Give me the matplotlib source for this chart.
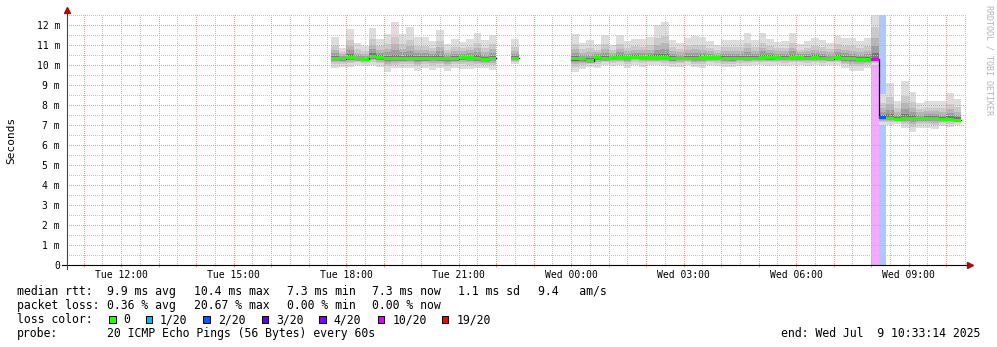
import numpy as np
import pandas as pd
import matplotlib
matplotlib.use("Agg")
import matplotlib.pyplot as plt
import matplotlib.dates as mdates
from matplotlib.patches import Rectangle
from matplotlib.ticker import MultipleLocator, FuncFormatter

plt.rcParams["font.family"] = ["DejaVu Sans Mono"]

nan = np.nan

# 12 minute bins from Tue 17:36 to Wed 10:24 (NaN = no data)
bin_start = pd.date_range("2025-07-08 17:36", periods=84, freq="12min")
t_start = pd.Timestamp("2025-07-08 10:33:14")
t_end = pd.Timestamp("2025-07-09 10:33:14")

# rtt in milliseconds: max ping, min ping, median ping per bin
rtt_max = [11.4, 10.87, 11.8, 11.08, 10.97, 11.85, 11.3, 11.55, 12.15, 11.57, 11.9,
           11.4, 11.4, 11.2, 11.77, 11.07, 11.3, 11.17, 11.3, 11.62, 11.25, 11.5,
           nan, nan, 11.3, nan, nan, nan, nan, nan, nan, nan,
           11.55, 11.1, 11.27, 11.03, 11.5, 11.0, 11.5, 11.2, 11.3, 11.3,
           11.4, 12.0, 12.17, 11.25, 11.1, 11.37, 11.45, 11.4, 11.2, 11.0,
           11.25, 11.25, 11.25, 11.6, 11.25, 11.6, 11.3, 11.17, 11.2, 11.6,
           11.03, 11.2, 11.37, 11.27, 11.1, 11.47, 11.37, 11.33, 11.2, 11.37,
           13.0,
           8.55, 9.08, 8.2, 9.2, 8.67, 8.08, 8.2, 8.2, 8.2, 8.58, 8.3]
rtt_min = [9.83, 9.9, 9.88, 10.0, 9.95, 10.0, 9.88, 9.67, 9.83, 9.87, 9.83,
           9.7, 9.87, 9.75, 9.83, 9.7, 9.87, 9.8, 9.8, 9.83, 9.83, 9.75,
           nan, nan, 10.03, nan, nan, nan, nan, nan, nan, nan,
           9.67, 9.8, 9.92, 9.83, 10.0, 9.97, 10.0, 9.83, 10.0, 9.92,
           10.0, 10.0, 9.97, 9.88, 9.92, 10.0, 9.88, 9.83, 10.0, 9.97,
           9.88, 9.88, 9.97, 9.97, 10.0, 10.0, 9.97, 10.0, 9.97, 10.0,
           10.0, 9.97, 10.0, 9.97, 10.0, 10.0, 9.83, 9.7, 9.7, 9.83,
           10.0,
           7.0, 7.0, 7.05, 6.83, 6.63, 6.83, 6.83, 6.78, 6.97, 6.92, 7.0]
rtt_med = [10.33, 10.32, 10.37, 10.32, 10.28, 10.42, 10.37, 10.32, 10.30, 10.32, 10.33,
           10.32, 10.32, 10.33, 10.32, 10.32, 10.32, 10.37, 10.35, 10.32, 10.28, 10.33,
           nan, nan, 10.33, nan, nan, nan, nan, nan, nan, nan,
           10.30, 10.30, 10.22, 10.37, 10.32, 10.35, 10.35, 10.35, 10.38, 10.35,
           10.35, 10.35, 10.35, 10.32, 10.33, 10.33, 10.33, 10.35, 10.35, 10.35,
           10.33, 10.32, 10.33, 10.32, 10.33, 10.37, 10.37, 10.37, 10.33, 10.37,
           10.37, 10.33, 10.37, 10.33, 10.32, 10.37, 10.32, 10.32, 10.28, 10.28,
           10.28,
           7.37, 7.33, 7.30, 7.33, 7.33, 7.33, 7.33, 7.33, 7.30, 7.30, 7.25]
# lost pings out of 20 per bin
loss = [0] * 22 + [nan, nan, 0] + [nan] * 7 + [0] * 40 + [4.13] + [1.5] + [0] * 10

loss_labels = ["0", "1/20", "2/20", "3/20", "4/20", "10/20", "19/20"]
loss_limits = [0, 1, 2, 3, 4, 10, 19]
loss_colors = ["#26ff00", "#00b8ff", "#0059ff", "#5e00ff", "#7e00ff", "#dd00ff", "#ff0000"]


def loss_color(v):
    for lim, c in zip(loss_limits, loss_colors):
        if v <= lim:
            return c
    return loss_colors[-1]


def lighten(c, k=0.33):
    rgb = np.array(matplotlib.colors.to_rgb(c))
    return tuple(1 - k * (1 - rgb))


W, H = 997, 347
fig = plt.figure(figsize=(W / 100, H / 100), dpi=100)
ax = fig.add_axes([67 / W, 1 - 265 / H, 900 / W, 250 / H])

x = mdates.date2num(bin_start.to_pydatetime())
w = 12 / 1440
hi = np.array(rtt_max)
lo = np.array(rtt_min)
med = np.array(rtt_med)
ls = np.array(loss, dtype=float)
ok = ~np.isnan(med)

# loss background bars
for xi, li in zip(x[ok], ls[ok]):
    if li > 0:
        ax.axvspan(xi, xi + w, color=lighten(loss_color(li)), lw=0, zorder=0.5)

# smoke
shades = [(1.0, "#dddddd"), (0.6, "#cacaca"), (0.4, "#b6b6b6"), (0.25, "#9e9e9e"), (0.12, "#777777")]
for f, c in shades:
    top = med[ok] + f * (hi[ok] - med[ok])
    bot = med[ok] - f * (med[ok] - lo[ok])
    ax.bar(x[ok], top - bot, w, bottom=bot, align="edge", color=c, lw=0, zorder=1)

# median line
xs = np.append(x, x[-1] + w)
ax.step(xs, np.append(med, med[-1]), where="post", color="black", lw=0.9, zorder=3)
ax.bar(x[ok], 0.15, w, bottom=med[ok] - 0.075, align="edge",
       color=[loss_color(v) for v in ls[ok]], lw=0, zorder=4)

ax.set_xlim(mdates.date2num(t_start.to_pydatetime()), mdates.date2num(t_end.to_pydatetime()))
ax.set_ylim(0, 12.5)


def xfmt(v, pos):
    ts = pd.Timestamp(mdates.num2date(v)).round("min")
    return ts.strftime("%a %H:%M") if ts.hour % 3 == 0 and ts.minute == 0 else ""


ax.xaxis.set_major_locator(mdates.HourLocator())
ax.xaxis.set_minor_locator(mdates.MinuteLocator(byminute=[30]))
ax.xaxis.set_major_formatter(FuncFormatter(xfmt))
ax.yaxis.set_major_locator(MultipleLocator(1))
ax.yaxis.set_minor_locator(MultipleLocator(0.5))
ax.yaxis.set_major_formatter(FuncFormatter(lambda v, p: "0" if v == 0 else f"{v:.0f} m"))

# 1px on / 1px off dots, offset so they land on whole pixels
ax.grid(which="major", color="#f09a9a", linestyle=(0.5, (1, 1)), lw=0.72)
ax.grid(which="minor", color="#c2c2c2", linestyle=(0.5, (1, 1)), lw=0.72)
ax.set_axisbelow(False)
ax.tick_params(axis="y", which="both", length=0, pad=5, labelsize=7)
ax.tick_params(axis="x", which="major", direction="inout", length=3, width=0.72,
               color="#f09a9a", pad=2, labelsize=7)
ax.tick_params(axis="x", which="minor", direction="inout", length=2, width=0.72,
               color="#c2c2c2")
for s in ax.spines.values():
    s.set_visible(False)

# axes with arrows
ax.plot([-0.0056, 1.004], [0, 0], color="black", lw=0.8, transform=ax.transAxes, clip_on=False, zorder=5)
ax.plot([0, 0], [-0.014, 1.02], color="#444444", lw=0.8, transform=ax.transAxes, clip_on=False, zorder=5)
ax.plot([1.0035], [0], marker=">", color="#a01010", ms=4, transform=ax.transAxes, clip_on=False, zorder=6)
ax.plot([0], [1.02], marker="^", color="#a01010", ms=4, transform=ax.transAxes, clip_on=False, zorder=6)

fig.text(11 / W, 1 - 140 / H, "Seconds", rotation=90, ha="center", va="center", fontsize=8)
fig.text(989 / W, 1 - 5 / H, "RRDTOOL / TOBI OETIKER", rotation=270, ha="center", va="top",
         fontsize=6, color="#b4b4b4")

# legend
FS = 8.3


def put(xp, yp, s, ha="left"):
    fig.text(xp / W, 1 - yp / H, s, fontsize=FS, ha=ha, va="baseline")


put(16.7, 295, "median rtt:")
put(107.3, 295, "9.9 ms avg")
put(194, 295, "10.4 ms max")
put(286.7, 295, "7.3 ms min")
put(372, 295, "7.3 ms now")
put(458, 295, "1.1 ms sd")
put(538, 295, "9.4   am/s")

put(16.7, 309, "packet loss:")
put(107.3, 309, "0.36 % avg")
put(194, 309, "20.67 % max")
put(286.7, 309, "0.00 % min")
put(372, 309, "0.00 % now")

put(16.7, 323.3, "loss color:")
sq_x = [109, 145.7, 203.3, 261.7, 319.3, 377.7, 441.7]
lab_x = [123.3, 160, 218.3, 276, 333.3, 392.3, 456.7]
for sx, lx, lab, c in zip(sq_x, lab_x, loss_labels, loss_colors):
    fig.add_artist(Rectangle((sx / W, 1 - 322.5 / H), 6.7 / W, 7 / H, facecolor=c,
                             edgecolor="black", lw=0.7, transform=fig.transFigure))
    put(lx, 323.3, lab)

put(16.7, 336.7, "probe:")
put(107.3, 336.7, "20 ICMP Echo Pings (56 Bytes) every 60s")
put(980, 336.7, "end: Wed Jul  9 10:33:14 2025", ha="right")

fig.savefig("out.png", dpi=100)
